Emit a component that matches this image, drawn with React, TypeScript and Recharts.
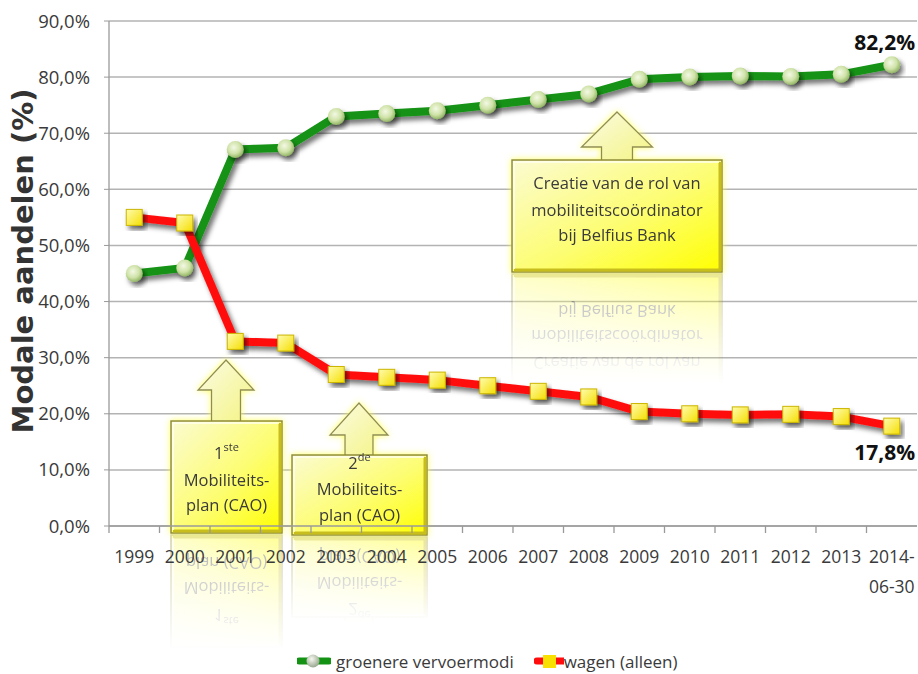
import {
  CartesianGrid,
  Customized,
  LabelList,
  Legend,
  Line,
  LineChart,
  XAxis,
  YAxis,
} from "recharts";

const YEARS = [
  "1999", "2000", "2001", "2002", "2003", "2004", "2005", "2006",
  "2007", "2008", "2009", "2010", "2011", "2012", "2013", "2014-06-30",
];
// modal shares in percent
const GREENER = [45.0, 46.0, 67.1, 67.4, 73.0, 73.5, 74.0, 75.0, 76.0, 77.0, 79.6, 80.0, 80.2, 80.1, 80.5, 82.2];
const CAR_ALONE = [55.0, 54.0, 32.9, 32.6, 27.0, 26.5, 26.0, 25.0, 24.0, 23.0, 20.4, 20.0, 19.8, 19.9, 19.5, 17.8];
const Y_TICKS = [0, 10, 20, 30, 40, 50, 60, 70, 80, 90];

const chartData = YEARS.map((year, i) => ({
  year,
  greener: GREENER[i],
  car: CAR_ALONE[i],
}));

const W = 918;
const H = 674;
const MARGIN = { top: 21, right: 1, left: 0, bottom: 0 };
const Y_AXIS_W = 109;
const PLOT_W = W - MARGIN.left - MARGIN.right - Y_AXIS_W;
const BAND = PLOT_W / YEARS.length;

const FONT = '"Open Sans", "Noto Sans", sans-serif';
const GREEN = "#139213";
const RED = "#ff0d0d";
const GRID = "#b3b3b3";
const TEXT = "#3a3a3a";

const pct = (v: number) => `${v.toFixed(1).replace(".", ",")}%`;

type Callout = {
  x: number;
  y: number;
  w: number;
  h: number;
  tipX: number;
  tipY: number;
  headY: number;
  headW: number;
  shaftW: number;
  fade: number;
  lines: { text: string; sup?: string; y: number }[];
};

const CALLOUTS: Callout[] = [
  {
    x: 171, y: 421, w: 111, h: 112,
    tipX: 226, tipY: 360, headY: 390, headW: 56, shaftW: 29, fade: 118,
    lines: [
      { text: "1", sup: "ste", y: 459 },
      { text: "Mobiliteits-", y: 486 },
      { text: "plan (CAO)", y: 511 },
    ],
  },
  {
    x: 292, y: 455, w: 135, h: 80,
    tipX: 359, tipY: 403, headY: 435, headW: 58, shaftW: 28, fade: 88,
    lines: [
      { text: "2", sup: "de", y: 469 },
      { text: "Mobiliteits-", y: 495 },
      { text: "plan (CAO)", y: 521 },
    ],
  },
  {
    x: 512, y: 160, w: 210, h: 112,
    tipX: 617, tipY: 112, headY: 147, headW: 71, shaftW: 31, fade: 112,
    lines: [
      { text: "Creatie van de rol van", y: 189 },
      { text: "mobiliteitscoördinator", y: 216 },
      { text: "bij Belfius Bank", y: 241 },
    ],
  },
];

function arrowPath(c: Callout) {
  const hw = c.headW / 2;
  const sw = c.shaftW / 2;
  return [
    `M${c.tipX},${c.tipY}`,
    `L${c.tipX + hw},${c.headY}`,
    `L${c.tipX + sw},${c.headY}`,
    `L${c.tipX + sw},${c.y + 4}`,
    `L${c.tipX - sw},${c.y + 4}`,
    `L${c.tipX - sw},${c.headY}`,
    `L${c.tipX - hw},${c.headY}Z`,
  ].join(" ");
}

function CalloutShape({ c, glow }: { c: Callout; glow: boolean }) {
  const cx = c.x + c.w / 2;
  return (
    <g filter={glow ? "url(#yellowGlow)" : undefined}>
      <path d={arrowPath(c)} fill="url(#arrowFill)" stroke="#8f8c55" strokeWidth={1.3} />
      <rect x={c.x} y={c.y} width={c.w} height={c.h} fill="url(#boxFill)" stroke="#8f8a3a" strokeWidth={1.5} />
      <path
        d={`M${c.x + 2},${c.y + c.h - 2} L${c.x + c.w - 2},${c.y + c.h - 2} L${c.x + c.w - 2},${c.y + 2}`}
        fill="none"
        stroke="#c7bd1c"
        strokeWidth={3}
      />
      <path
        d={`M${c.x + 2},${c.y + c.h - 3} L${c.x + 2},${c.y + 2} L${c.x + c.w - 3},${c.y + 2}`}
        fill="none"
        stroke="#fffff0"
        strokeWidth={1.5}
      />
      {c.lines.map((l, i) => (
        <text key={i} x={cx} y={l.y} textAnchor="middle" fontFamily={FONT} fontSize={16.5} fill={TEXT}>
          <tspan>{l.text}</tspan>
          {l.sup && (
            <tspan dy={-8} fontSize={11}>
              {l.sup}
            </tspan>
          )}
        </text>
      ))}
    </g>
  );
}

function Annotations() {
  return (
    <g>
      <defs>
        <linearGradient id="boxFill" x1="0" y1="0" x2="1" y2="1">
          <stop offset="0%" stopColor="#fbfbd2" />
          <stop offset="55%" stopColor="#fdfd70" />
          <stop offset="100%" stopColor="#ffff00" />
        </linearGradient>
        <linearGradient id="arrowFill" x1="0" y1="0" x2="1" y2="1">
          <stop offset="0%" stopColor="#fbfbe4" />
          <stop offset="100%" stopColor="#f4f480" />
        </linearGradient>
        <linearGradient id="fadeGrad" x1="0" y1="0" x2="0" y2="1">
          <stop offset="0%" stopColor="#fff" stopOpacity={0.42} />
          <stop offset="100%" stopColor="#fff" stopOpacity={0} />
        </linearGradient>
        <filter id="yellowGlow" x="-20%" y="-20%" width="140%" height="140%">
          <feDropShadow dx={0} dy={0} stdDeviation={3} floodColor="#ffff50" floodOpacity={0.9} />
        </filter>
        {CALLOUTS.map((c, i) => (
          <mask id={`reflMask${i}`} key={i} maskUnits="userSpaceOnUse" x={0} y={0} width={W} height={H}>
            <rect x={c.x - 6} y={c.y + c.h} width={c.w + 12} height={c.fade} fill="url(#fadeGrad)" />
          </mask>
        ))}
      </defs>

      {CALLOUTS.map((c, i) => (
        <g key={`r${i}`} mask={`url(#reflMask${i})`}>
          <g transform={`translate(0, ${2 * (c.y + c.h) + 2}) scale(1, -1)`}>
            <CalloutShape c={c} glow={false} />
          </g>
        </g>
      ))}
      {CALLOUTS.map((c, i) => (
        <CalloutShape key={`c${i}`} c={c} glow />
      ))}

      <text
        transform="translate(33, 261) rotate(-90)"
        textAnchor="middle"
        fontFamily='"DejaVu Sans", sans-serif'
        fontWeight="bold"
        fontSize={29}
        fill="#333"
      >
        Modale aandelen (%)
      </text>
    </g>
  );
}

function YearTick({ x, y, payload }: any) {
  const label: string = payload.value;
  const parts = label.length > 4 ? [label.slice(0, 5), label.slice(5)] : [label];
  const bx = x - BAND / 2;
  return (
    <g>
      <line x1={bx} x2={bx} y1={y - 7} y2={y} stroke="#999" strokeWidth={1.3} />
      {parts.map((p, i) => (
        <text key={i} x={x} y={y + 30 + i * 30} textAnchor="middle" fontFamily={FONT} fontSize={17.5} fill={TEXT}>
          {p}
        </text>
      ))}
    </g>
  );
}

function SphereDot(props: any) {
  const { cx, cy, index } = props;
  return (
    <circle key={`s${index}`} cx={cx} cy={cy} r={8.5} fill="url(#sphereFill)" filter="url(#dropShadow)" />
  );
}

function SquareDot(props: any) {
  const { cx, cy, index } = props;
  return (
    <rect
      key={`q${index}`}
      x={cx - 8}
      y={cy - 8}
      width={16}
      height={16}
      fill="url(#squareFill)"
      stroke="#cbb500"
      strokeWidth={1}
      filter="url(#dropShadow)"
    />
  );
}

function EndLabel(offsetY: number) {
  return (props: any) => {
    const { x, y, value, index } = props;
    if (index !== YEARS.length - 1) return null;
    return (
      <text
        x={x - 7}
        y={y + offsetY}
        textAnchor="middle"
        fontFamily={FONT}
        fontWeight="bold"
        fontSize={21}
        fill="#111"
      >
        {pct(value)}
      </text>
    );
  };
}

function LegendContent() {
  return (
    <div
      style={{
        height: 26,
        display: "flex",
        alignItems: "center",
        paddingLeft: 297,
        fontFamily: FONT,
        fontSize: 17,
        color: TEXT,
        whiteSpace: "nowrap",
      }}
    >
      <svg width={34} height={18} style={{ marginRight: 5 }}>
        <line x1={2} x2={32} y1={9} y2={9} stroke={GREEN} strokeWidth={7} strokeLinecap="round" />
        <circle cx={16} cy={9} r={6.5} fill="url(#legendSphere)" />
        <defs>
          <radialGradient id="legendSphere" cx="40%" cy="35%" r="65%">
            <stop offset="0%" stopColor="#f6f8f0" />
            <stop offset="100%" stopColor="#9aa890" />
          </radialGradient>
        </defs>
      </svg>
      <span>groenere vervoermodi</span>
      <svg width={30} height={18} style={{ marginLeft: 20 }}>
        <line x1={3} x2={30} y1={9} y2={9} stroke={RED} strokeWidth={7} strokeLinecap="round" />
        <rect x={9} y={3} width={13} height={13} fill="#f8e000" />
      </svg>
      <span>wagen (alleen)</span>
    </div>
  );
}

export default function App() {
  return (
    <div style={{ position: "absolute", left: 0, top: 0, background: "#fff" }}>
      <LineChart width={W} height={H} data={chartData} margin={MARGIN}>
        <defs>
          <filter id="dropShadow" x="-30%" y="-30%" width="160%" height="160%">
            <feDropShadow dx={3} dy={4} stdDeviation={2.5} floodColor="#000" floodOpacity={0.55} />
          </filter>
          <radialGradient id="sphereFill" cx="42%" cy="38%" r="62%">
            <stop offset="0%" stopColor="#f3f9e4" />
            <stop offset="60%" stopColor="#cfe2a8" />
            <stop offset="100%" stopColor="#93b665" />
          </radialGradient>
          <linearGradient id="squareFill" x1="0" y1="0" x2="1" y2="1">
            <stop offset="0%" stopColor="#fffcb0" />
            <stop offset="100%" stopColor="#f5de00" />
          </linearGradient>
        </defs>
        <CartesianGrid vertical={false} stroke={GRID} strokeWidth={1.5} />
        <XAxis
          dataKey="year"
          interval={0}
          height={122}
          padding={{ left: BAND / 2, right: BAND / 2 }}
          tickSize={7}
          tickMargin={0}
          tickLine={false}
          axisLine={{ stroke: "#9a9a9a", strokeWidth: 1.3 }}
          tick={<YearTick />}
        />
        <YAxis
          width={Y_AXIS_W}
          domain={[0, 90]}
          ticks={Y_TICKS}
          tickFormatter={pct}
          tickSize={5}
          tickMargin={14}
          axisLine={{ stroke: "#9a9a9a", strokeWidth: 1.3 }}
          tickLine={{ stroke: "#9a9a9a" }}
          tick={{ fontSize: 18.5, fill: TEXT, fontFamily: FONT }}
        />
        <Customized component={<Annotations />} />
        <Line
          dataKey="greener"
          stroke={GREEN}
          strokeWidth={8}
          strokeLinejoin="round"
          filter="url(#dropShadow)"
          dot={SphereDot}
          activeDot={false}
          isAnimationActive={false}
        >
          <LabelList dataKey="greener" content={EndLabel(-15)} />
        </Line>
        <Line
          dataKey="car"
          stroke={RED}
          strokeWidth={8}
          strokeLinejoin="round"
          filter="url(#dropShadow)"
          dot={SquareDot}
          activeDot={false}
          isAnimationActive={false}
        >
          <LabelList dataKey="car" content={EndLabel(34)} />
        </Line>
        <Legend
          verticalAlign="bottom"
          align="left"
          content={<LegendContent />}
          wrapperStyle={{ left: 0, width: W }}
        />
      </LineChart>
    </div>
  );
}
